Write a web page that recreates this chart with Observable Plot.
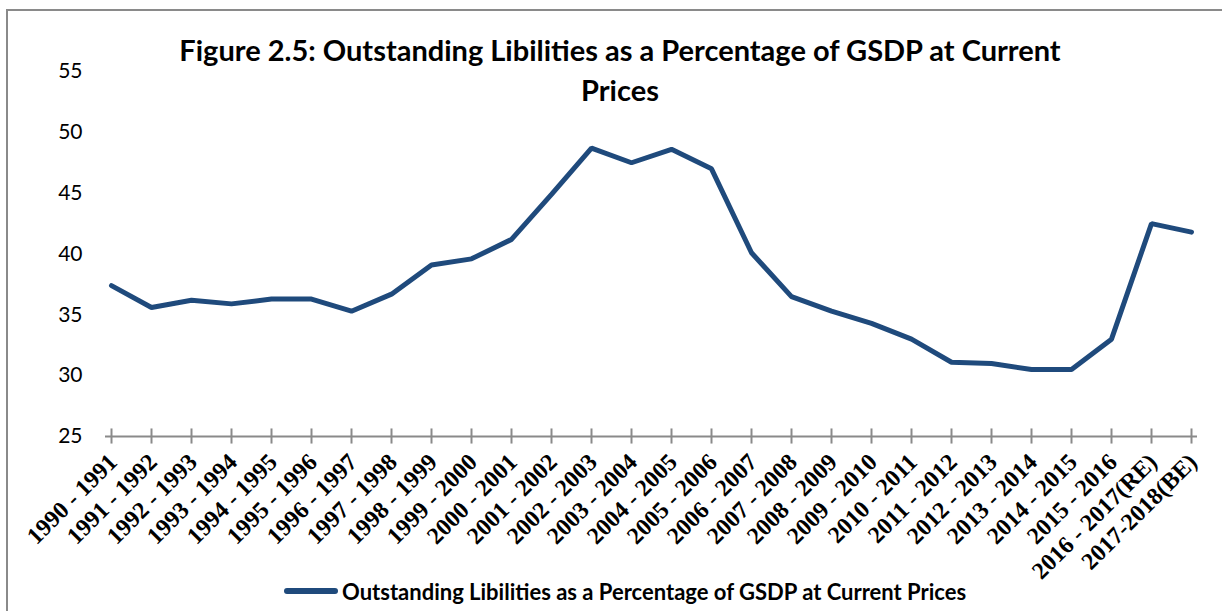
<!DOCTYPE html>
<html>
<head>
<meta charset="utf-8">
<script src="https://cdn.jsdelivr.net/npm/d3@7"></script>
<script src="https://cdn.jsdelivr.net/npm/@observablehq/plot@0.6"></script>
<style>
  html, body { margin: 0; padding: 0; background: #fff; overflow: hidden; }
  #wrap { position: relative; width: 1222px; height: 611px; }
  #frame { position: absolute; left: 6px; top: 9px; width: 1240px; height: 640px; border: 2px solid #8a8a8a; box-sizing: border-box; }
  #title { position: absolute; left: 60px; width: 1120px; top: 30px; text-align: center; font-family: Lato, sans-serif; font-weight: bold; font-size: 29px; line-height: 40px; color: #000; }
  #legend { position: absolute; left: 284px; top: 577px; height: 28px; display: flex; align-items: center; font-family: Lato, sans-serif; font-weight: bold; font-size: 22px; color: #000; white-space: nowrap; }
  #legend .sw { width: 54px; height: 6px; border-radius: 3px; background: #1f4a7c; margin-right: 4px; }
  #chart { position: absolute; left: 0; top: 0; }
</style>
</head>
<body>
<div id="wrap">
  <div id="frame"></div>
  <div id="chart"></div>
  <div id="title">Figure 2.5: Outstanding Libilities as a Percentage of GSDP at Current<br>Prices</div>
  <div id="legend"><div class="sw"></div><span>Outstanding Libilities as a Percentage of GSDP at Current Prices</span></div>
</div>
<script>
const years = [
  "1990 - 1991","1991 - 1992","1992 - 1993","1993 - 1994","1994 - 1995","1995 - 1996",
  "1996 - 1997","1997 - 1998","1998 - 1999","1999 - 2000","2000 - 2001","2001 - 2002",
  "2002 - 2003","2003 - 2004","2004 - 2005","2005 - 2006","2006 - 2007","2007 - 2008",
  "2008 - 2009","2009 - 2010","2010 - 2011","2011 - 2012","2012 - 2013","2013 - 2014",
  "2014 - 2015","2015 - 2016","2016 - 2017(RE)","2017-2018(BE)"
];
const liabilities = [
  37.4, 35.6, 36.2, 35.9, 36.3, 36.3, 35.3, 36.7, 39.1, 39.6, 41.2, 44.9,
  48.7, 47.5, 48.6, 47.0, 40.1, 36.5, 35.3, 34.3, 33.0, 31.1, 31.0, 30.5,
  30.5, 33.0, 42.5, 41.8
];
const yTicks = [25, 30, 35, 40, 45, 50, 55];

const data = years.map((y, i) => ({year: y, value: liabilities[i]}));

const chart = Plot.plot({
  width: 1222,
  height: 611,
  marginLeft: 105,
  marginRight: 25,
  marginTop: 71,
  marginBottom: 175,
  style: {background: "transparent", overflow: "visible"},
  x: {type: "point", domain: years, padding: 0, axis: null},
  y: {domain: [25, 55], axis: null},
  marks: [
    Plot.text(yTicks, {y: d => d, frameAnchor: "left", dx: -23, textAnchor: "end", text: d => String(d),
      fontFamily: "Lato, sans-serif", fontSize: 21, fill: "#000"}),
    Plot.ruleY([25], {stroke: "#8a8a8a", strokeWidth: 2}),
    Plot.ruleX(years, {x: d => d, y1: 25.62, y2: 24.38, stroke: "#8a8a8a", strokeWidth: 2}),
    Plot.text(years, {x: d => d, frameAnchor: "bottom", dy: 27, dx: 7, rotate: -45, textAnchor: "end",
      fontFamily: "'Liberation Serif', serif", fontWeight: "bold", fontSize: 24, fill: "#000"}),
    Plot.line(data, {x: "year", y: "value", stroke: "#1f4a7c", strokeWidth: 5, strokeLinejoin: "miter", strokeLinecap: "round"})
  ]
});
document.getElementById("chart").appendChild(chart);
</script>
</body>
</html>
